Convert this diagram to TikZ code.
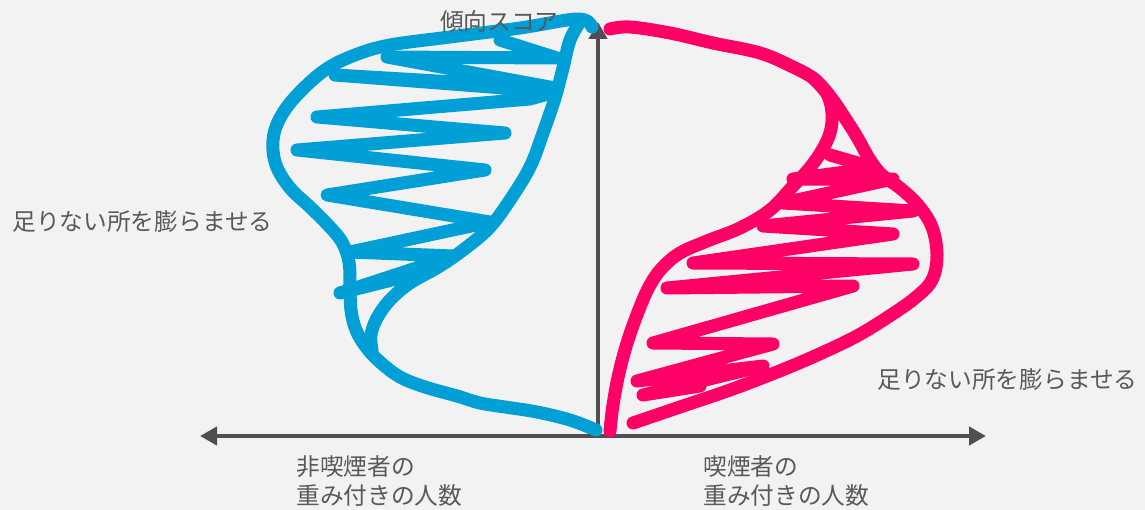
\documentclass[tikz,border=0pt]{standalone}
\usepackage{fontspec}
\setmainfont{Noto Sans CJK JP}
\usetikzlibrary{arrows.meta}
\definecolor{bggray}{HTML}{F2F2F2}
\definecolor{axisgray}{HTML}{4F4F4F}
\definecolor{txtgray}{HTML}{595959}
\definecolor{nonsmoker}{HTML}{00A0D6}
\definecolor{smoker}{HTML}{FF0066}
\tikzset{every picture/.style={/utils/exec={\fontsize{13.5}{16.5}\selectfont}}}
\tikzset{axis/.style={axisgray, line width=2.8pt}}
\tikzset{tip/.style={-{Triangle[width=0.36cm,length=0.34cm]}}}
\tikzset{pen/.style={line width=7.4pt, line cap=round, line join=round}}
\tikzset{note/.style={txtgray, inner sep=0pt}}

\begin{document}
\begin{tikzpicture}[x=0.02cm,y=-0.02cm]
    \fill [bggray] (0,0) rectangle (1145,510);
    \useasboundingbox (0,0) rectangle (1145,510);
    \coordinate (o) at (598,436);
    \coordinate (ytop) at (598,22);
    \coordinate (xl) at (200,436);
    \coordinate (xr) at (986,436);
    \draw [axis,tip] (o) -- (ytop);
    \draw [axis,{Triangle[width=0.36cm,length=0.34cm]}-{Triangle[width=0.36cm,length=0.34cm]}] (xl) -- (xr);
    \draw [pen,nonsmoker] plot [smooth,tension=0.6] coordinates {(592,27) (578,19) (520,28) (450,37) (390,45) (355,55) (325,70) (297,95) (280,118) (273,140) (276,165) (290,188) (310,207) (328,225) (342,242) (349,262) (350,285) (351,310) (356,330) (366,347) (380,362) (400,377) (425,387) (457,396) (480,403) (505,407) (537,412) (570,420) (596,430)};
    \draw [pen,nonsmoker] plot [smooth,tension=0.6] coordinates {(580,22) (570,40) (563,68) (555,98) (543,133) (530,167) (510,200) (490,227) (467,247) (440,266) (410,283) (390,300) (377,318) (371,335) (372,350)};
    \draw [pen,nonsmoker] (500,40) -- (557,58) -- (387,57) -- (555,88) -- (335,75) -- (555,92) -- (530,99) -- (317,117) -- (505,133) -- (297,150) -- (485,170) -- (327,195) -- (490,222) -- (350,252) -- (453,256) -- (340,293) -- (432,270);
    \draw [pen,smoker] plot [smooth,tension=0.6] coordinates {(610,29) (630,27) (670,33) (713,43) (760,53) (793,67) (813,78) (825,90) (835,103) (845,118) (857,137) (870,160) (882,175) (900,188) (918,205) (932,227) (937,255) (932,280) (915,298) (888,317) (855,337) (815,356) (777,372) (730,390) (680,407) (633,423)};
    \draw [pen,smoker] plot [smooth,tension=0.6] coordinates {(813,78) (827,94) (832,113) (830,133) (821,152) (808,170) (793,186) (770,210) (740,228) (707,241) (680,253) (662,268) (650,285) (640,307) (628,340) (619,373) (613,405) (610,431)};
    \draw [pen,smoker] (830,155) -- (875,168) -- (793,179) -- (893,179) -- (783,203) -- (913,211) -- (763,226) -- (893,234) -- (693,263) -- (913,264) -- (667,288) -- (853,286) -- (653,343) -- (773,344) -- (637,381) -- (763,366) -- (643,395) -- (700,386);
    \node [note,anchor=east] (score) at (559,22) {傾向スコア};
    \node [note,anchor=west] (fillL) at (12,222) {足りない所を膨らませる};
    \node [note,anchor=west] (fillR) at (877,380) {足りない所を膨らませる};
    \node [note,anchor=west,align=left] (nonsm) at (296,481) {非喫煙者の\\重み付きの人数};
    \node [note,anchor=west,align=left] (sm) at (703,481) {喫煙者の\\重み付きの人数};
\end{tikzpicture}
\end{document}
